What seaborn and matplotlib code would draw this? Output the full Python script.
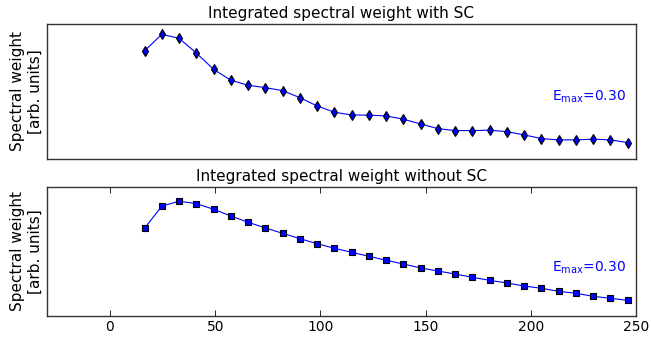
import numpy as np
import pandas as pd
import matplotlib
matplotlib.use('Agg')
import matplotlib.pyplot as plt
import seaborn as sns

sns.set_style('white')
plt.rcParams['font.family'] = ['DejaVu Sans']
plt.rcParams['mathtext.fontset'] = 'dejavusans'
plt.rcParams['text.color'] = 'black'
plt.rcParams['axes.labelcolor'] = 'black'
plt.rcParams['xtick.color'] = 'black'

# momentum / energy axis values (29 points)
xvals = [8.2 * k for k in range(2, 31)]

# integrated spectral weight, with superconductivity (arb. units)
weight_sc = [108, 124.7, 120.7, 106, 89.7, 78.7, 73.7, 71.3, 68.3, 61.3,
             53, 46.7, 44, 43.7, 43, 39.7, 35, 30.3, 28.3, 28.3,
             28.7, 27.3, 24, 20.3, 19, 19, 19.7, 19, 16.3]

# integrated spectral weight, without superconductivity (arb. units)
weight_nosc = [87.7, 109.7, 114.7, 112.3, 106.7, 100, 93.7, 88, 82.7, 77.3,
               72.3, 67.7, 63.7, 59.7, 55.7, 52, 48, 45, 42, 38.7,
               35.7, 33, 30, 27.7, 24.7, 22.7, 19.7, 17.7, 15.7]

titles = ['Integrated spectral weight with SC', 'Integrated spectral weight without SC']
emax_label = r'E$_{\rm max}$=0.30'

df = pd.DataFrame({'x': xvals, 'sc': weight_sc, 'nosc': weight_nosc})

fig = plt.figure(figsize=(6.51, 3.38), dpi=100)
ax1 = fig.add_axes([0.072, 0.530, 0.905, 0.399])
ax2 = fig.add_axes([0.072, 0.065, 0.905, 0.382])

sns.lineplot(data=df, x='x', y='sc', ax=ax1, color='blue', lw=0.8,
             marker='d', markersize=5, markerfacecolor='blue', markeredgecolor='black',
             markeredgewidth=0.8)
sns.lineplot(data=df, x='x', y='nosc', ax=ax2, color='blue', lw=0.8,
             marker='s', markersize=4, markerfacecolor='blue', markeredgecolor='black',
             markeredgewidth=0.8)

ax1.set_ylim(0, 135)
ax2.set_ylim(0, 129)

for ax, title, ty in zip([ax1, ax2], titles, [0.46, 0.37]):
    ax.set_xlim(-30, 250)
    ax.set_title(title, fontsize=11, pad=4)
    ax.set_xlabel('')
    ax.set_ylabel('Spectral weight\n[arb. units]', fontsize=11, labelpad=3)
    ax.set_yticks([])
    for sp in ax.spines.values():
        sp.set_color('#333333')
        sp.set_linewidth(1.0)
    ax.text(0.983, ty, emax_label, transform=ax.transAxes, color='blue',
            fontsize=10, ha='right', va='center')

ax1.set_xticks([])
ax2.set_xticks([0, 50, 100, 150, 200, 250])
ax2.tick_params(axis='x', direction='in', top=True, bottom=True, length=4,
                width=0.6, labelsize=10, pad=3)

fig.savefig('out.png', dpi=100)
